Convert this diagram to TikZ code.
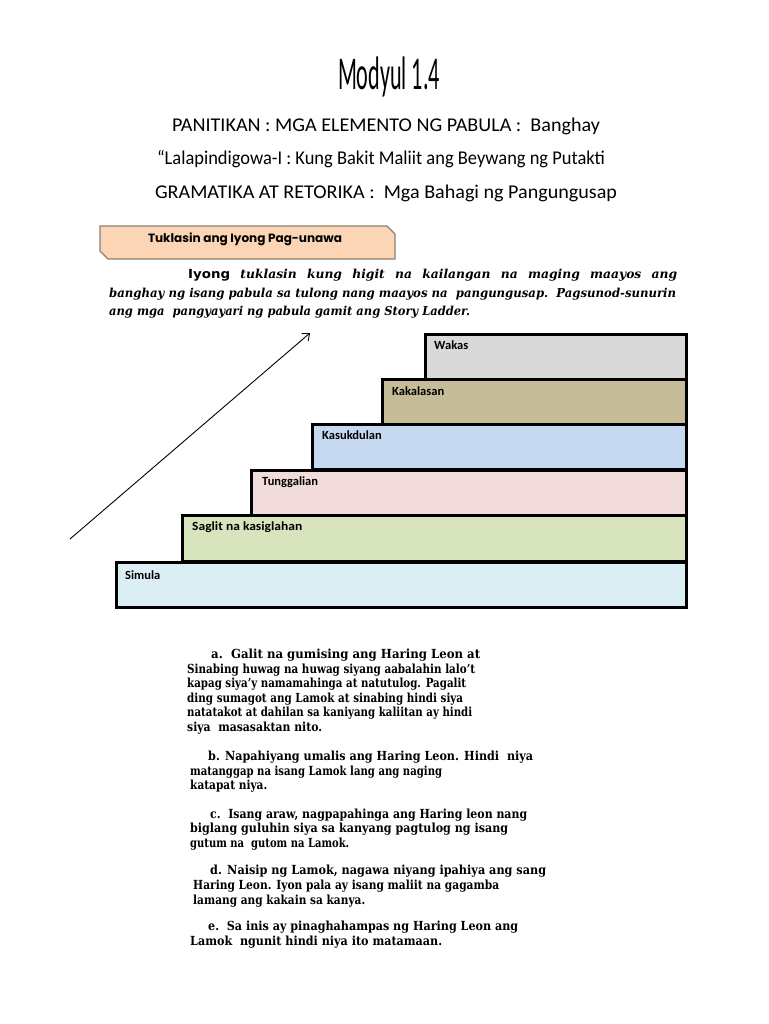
\documentclass[tikz,border=0pt]{standalone}
\usepackage{fontspec}
\usepackage{graphicx}
\usetikzlibrary{arrows.meta}
\setmainfont{DejaVu Serif}
\newfontfamily\calib{Carlito}
\newfontfamily\geo{Poppins}
\newfontfamily\dsans{DejaVu Sans}
\newlength\fitlen
\newcommand\fitw[2]{\settowidth\fitlen{#2}\pgfmathsetmacro\fitfac{#1/\fitlen}\scalebox{\fitfac}[1]{#2}}
\definecolor{peach}{HTML}{FBD5B5}
\definecolor{tabedge}{HTML}{8C8070}
\definecolor{cwakas}{HTML}{D9D9D9}
\definecolor{ckakal}{HTML}{C4BD97}
\definecolor{ckasuk}{HTML}{C6D9F1}
\definecolor{ctungg}{HTML}{F2DCDB}
\definecolor{csaglit}{HTML}{D7E4BD}
\definecolor{csimula}{HTML}{DBEEF3}
\tikzset{
  heading/.style={inner sep=0pt, anchor=base, font=\calib\fontsize{19.5}{22}\selectfont},
  stairbox/.style={draw=black, line width=2.6pt, anchor=north west, inner sep=0pt},
  steplabel/.style={inner sep=0pt, anchor=base west, font=\calib\bfseries\fontsize{12.5}{14}\selectfont},
  listline/.style={inner sep=0pt, anchor=base west, font=\bfseries\fontsize{12.5}{14}\selectfont},
  paraline/.style={inner sep=0pt, anchor=base west, font=\bfseries\itshape\fontsize{12.3}{14}\selectfont}
}
\begin{document}
\begin{tikzpicture}[x=1pt,y=-1pt]
\useasboundingbox (0,0) rectangle (768,1024);
\fill[white] (0,0) rectangle (768,1024);

% Title and headings
\node[inner sep=0pt, anchor=base] (title) at (389,90) {\calib\fontsize{47}{50}\selectfont\fitw{102}{Modyul 1.4}};
\node[heading] (h1) at (386,132) {\fitw{428}{PANITIKAN : MGA ELEMENTO NG PABULA :\ \ Banghay}};
\node[heading] (h2) at (381,165) {\fitw{448}{“Lalapindigowa-I : Kung Bakit Maliit ang Beywang ng Putakti}};
\node[heading] (h3) at (386,199) {\fitw{462}{GRAMATIKA AT RETORIKA :\ \ Mga Bahagi ng Pangungusap}};

% Tab box
\draw[fill=peach, draw=tabedge, line width=1.2pt] (100,226) -- (387,226) -- (395,234) -- (395,259) -- (108,259) -- (100,251) -- cycle;
\node[inner sep=0pt, anchor=base] (tab) at (245,242) {\geo\bfseries\fontsize{12}{14}\selectfont\fitw{194}{Tuklasin ang Iyong Pag-unawa}};

% Paragraph
\node[paraline] (p1) at (188,278) {\makebox[489pt][s]{{\dsans\bfseries\upshape\fontsize{12.5}{15}\selectfont\fitw{42}{Iyong}} tuklasin kung higit na kailangan na maging maayos ang}};
\node[paraline] (p2) at (109,297) {\fitw{567}{banghay ng isang pabula sa tulong nang maayos na\ \ pangungusap.\ \ Pagsunod-sunurin}};
\node[paraline] (p3) at (109,315) {\fitw{361}{ang mga\ \ pangyayari ng pabula gamit ang Story Ladder.}};

% Staircase
\node[stairbox, fill=csimula, minimum width=570pt, minimum height=45pt] (simula) at (115,561) {};
\node[stairbox, fill=csaglit, minimum width=504pt, minimum height=46pt] (saglit) at (181,514) {};
\node[stairbox, fill=ctungg, minimum width=435pt, minimum height=45pt] (tungg) at (250,469) {};
\node[stairbox, fill=ckasuk, minimum width=374pt, minimum height=45pt] (kasuk) at (311,423) {};
\node[stairbox, fill=ckakal, minimum width=304pt, minimum height=45pt] (kakal) at (381,378) {};
\node[stairbox, fill=cwakas, minimum width=261pt, minimum height=45pt] (wakas) at (424,333) {};

\node[steplabel] (lwakas) at (434,349) {Wakas};
\node[steplabel] (lkakal) at (392,395) {Kakalasan};
\node[steplabel] (lkasuk) at (322,439) {Kasukdulan};
\node[steplabel] (ltungg) at (262,485) {Tunggalian};
\node[steplabel] (lsaglit) at (192,530) {\fitw{110}{Saglit na kasiglahan}};
\node[steplabel] (lsimula) at (125,579) {Simula};

% Arrow
\coordinate (a0) at (70,539);
\coordinate (a1) at (310,333);
\draw[line width=0.9pt, -{Straight Barb[length=6pt,width=10pt]}] (a0) -- (a1);

% List
\node[listline] (a1l) at (211,658) {\fitw{269}{a.\ \ Galit na gumising ang Haring Leon at}};
\node[listline] (a2l) at (187,673) {\fitw{288}{Sinabing huwag na huwag siyang aabalahin lalo’t}};
\node[listline] (a3l) at (187,687) {\fitw{279}{kapag siya’y namamahinga at natutulog. Pagalit}};
\node[listline] (a4l) at (187,702) {\fitw{276}{ding sumagot ang Lamok at sinabing hindi siya}};
\node[listline] (a5l) at (187,716) {\fitw{285}{natatakot at dahilan sa kaniyang kaliitan ay hindi}};
\node[listline] (a6l) at (187,731) {\fitw{135}{siya\ \ masasaktan nito.}};

\node[listline] (b1l) at (208,760) {\fitw{325}{b. Napahiyang umalis ang Haring Leon. Hindi\ \ niya}};
\node[listline] (b2l) at (190,775) {\fitw{252}{matanggap na isang Lamok lang ang naging}};
\node[listline] (b3l) at (190,789) {\fitw{77}{katapat niya.}};

\node[listline] (c1l) at (210,818) {\fitw{317}{c.\ \ Isang araw, nagpapahinga ang Haring leon nang}};
\node[listline] (c2l) at (190,832) {\fitw{318}{biglang guluhin siya sa kanyang pagtulog ng isang}};
\node[listline] (c3l) at (190,847) {\fitw{159}{gutum na\ \ gutom na Lamok.}};

\node[listline] (d1l) at (210,874) {\fitw{336}{d. Naisip ng Lamok, nagawa niyang ipahiya ang sang}};
\node[listline] (d2l) at (193,889) {\fitw{306}{Haring Leon. Iyon pala ay isang maliit na gagamba}};
\node[listline] (d3l) at (193,904) {\fitw{172}{lamang ang kakain sa kanya.}};

\node[listline] (e1l) at (208,930) {\fitw{310}{e.\ \ Sa inis ay pinaghahampas ng Haring Leon ang}};
\node[listline] (e2l) at (190,945) {\fitw{252}{Lamok\ \ ngunit hindi niya ito matamaan.}};
\end{tikzpicture}
\end{document}
